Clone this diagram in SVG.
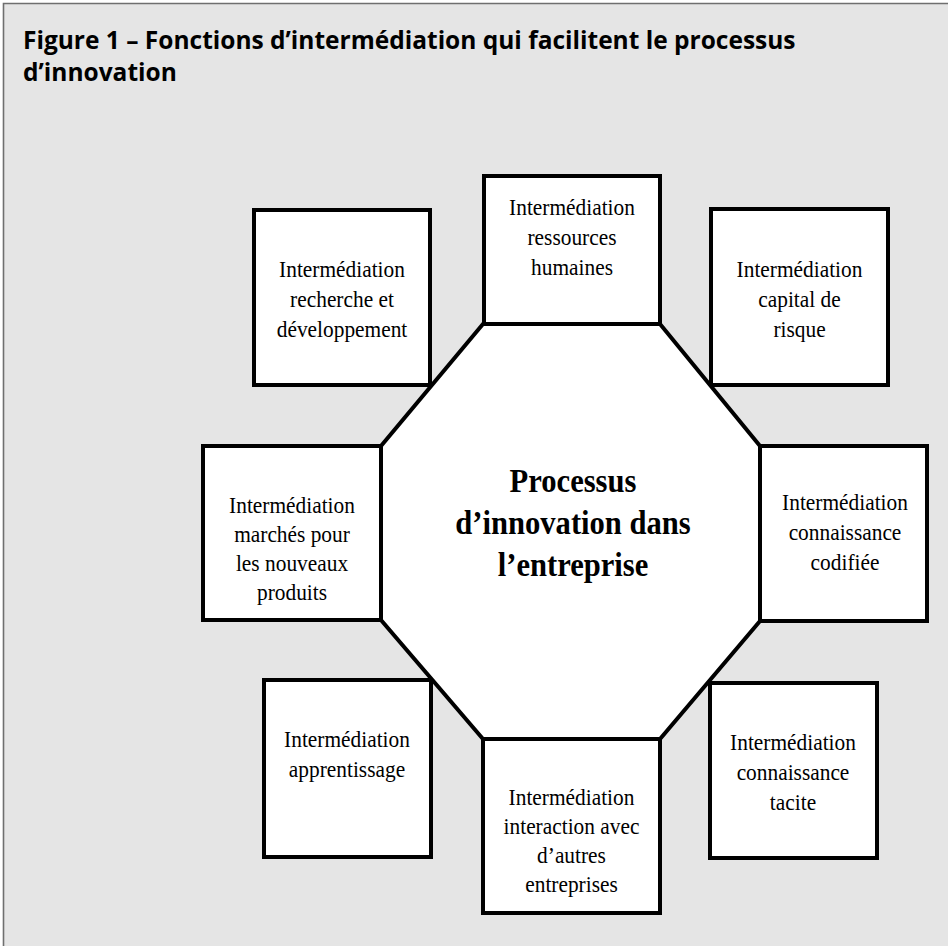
<svg xmlns="http://www.w3.org/2000/svg" width="948" height="946" viewBox="0 0 948 946">
<style>
.frame{fill:#e5e5e5}
.edge{stroke:#6f6f6f;stroke-width:1.6;fill:none}
.title{font-family:"Open Sans","Liberation Sans",sans-serif;font-weight:700;font-size:24.5px;fill:#000}
.box{fill:#fff;stroke:#000;stroke-width:4}
.lbl{font-family:"Liberation Serif","Times New Roman",serif;font-size:23px;fill:#000;text-anchor:middle}
.ctr{font-family:"Liberation Serif","Times New Roman",serif;font-size:34px;font-weight:700;fill:#000;text-anchor:middle}
</style>
<rect x="0" y="0" width="948" height="946" fill="#fff"/>
<rect class="frame" x="3.5" y="3.5" width="944.5" height="942.5"/>
<path class="edge" d="M3.5,946 V3.5 H948"/>
<text class="title" x="23" y="49">Figure 1 – Fonctions d’intermédiation qui facilitent le processus</text>
<text class="title" x="23" y="81">d’innovation</text>

<g id="connectors"></g>

<g id="center">
<polygon class="box" points="483,324 660,324 760,446 760,621 660,739 483,739 381,620 381,446"/>
<g transform="translate(573,0) scale(0.9,1)">
<text class="ctr" x="0" y="492">Processus</text>
<text class="ctr" x="0" y="534">d’innovation dans</text>
<text class="ctr" x="0" y="576">l’entreprise</text>
</g>
</g>

<g id="n-rd">
<rect class="box" x="254" y="210" width="176" height="175"/>
<g transform="translate(342,0) scale(0.93,1)">
<text class="lbl" x="0" y="277">Intermédiation</text>
<text class="lbl" x="0" y="307">recherche et</text>
<text class="lbl" x="0" y="337">développement</text>
</g>
</g>

<g id="n-rh">
<rect class="box" x="484" y="176" width="176" height="148"/>
<g transform="translate(572,0) scale(0.93,1)">
<text class="lbl" x="0" y="215">Intermédiation</text>
<text class="lbl" x="0" y="245">ressources</text>
<text class="lbl" x="0" y="275">humaines</text>
</g>
</g>

<g id="n-cr">
<rect class="box" x="711" y="209" width="177" height="176"/>
<g transform="translate(799.5,0) scale(0.93,1)">
<text class="lbl" x="0" y="277">Intermédiation</text>
<text class="lbl" x="0" y="307">capital de</text>
<text class="lbl" x="0" y="337">risque</text>
</g>
</g>

<g id="n-mp">
<rect class="box" x="203" y="446" width="178" height="174"/>
<g transform="translate(292,0) scale(0.93,1)">
<text class="lbl" x="0" y="513">Intermédiation</text>
<text class="lbl" x="0" y="542">marchés pour</text>
<text class="lbl" x="0" y="571">les nouveaux</text>
<text class="lbl" x="0" y="600">produits</text>
</g>
</g>

<g id="n-cc">
<rect class="box" x="760" y="446" width="167" height="175"/>
<g transform="translate(845,0) scale(0.93,1)">
<text class="lbl" x="0" y="510">Intermédiation</text>
<text class="lbl" x="0" y="540">connaissance</text>
<text class="lbl" x="0" y="570">codifiée</text>
</g>
</g>

<g id="n-ap">
<rect class="box" x="264" y="680" width="167" height="177"/>
<g transform="translate(347,0) scale(0.93,1)">
<text class="lbl" x="0" y="747">Intermédiation</text>
<text class="lbl" x="0" y="777">apprentissage</text>
</g>
</g>

<g id="n-ia">
<rect class="box" x="483" y="739" width="177" height="174"/>
<g transform="translate(571.5,0) scale(0.93,1)">
<text class="lbl" x="0" y="805">Intermédiation</text>
<text class="lbl" x="0" y="834">interaction avec</text>
<text class="lbl" x="0" y="863">d’autres</text>
<text class="lbl" x="0" y="892">entreprises</text>
</g>
</g>

<g id="n-ct">
<rect class="box" x="710" y="683" width="167" height="175"/>
<g transform="translate(793,0) scale(0.93,1)">
<text class="lbl" x="0" y="750">Intermédiation</text>
<text class="lbl" x="0" y="780">connaissance</text>
<text class="lbl" x="0" y="810">tacite</text>
</g>
</g>
</svg>
